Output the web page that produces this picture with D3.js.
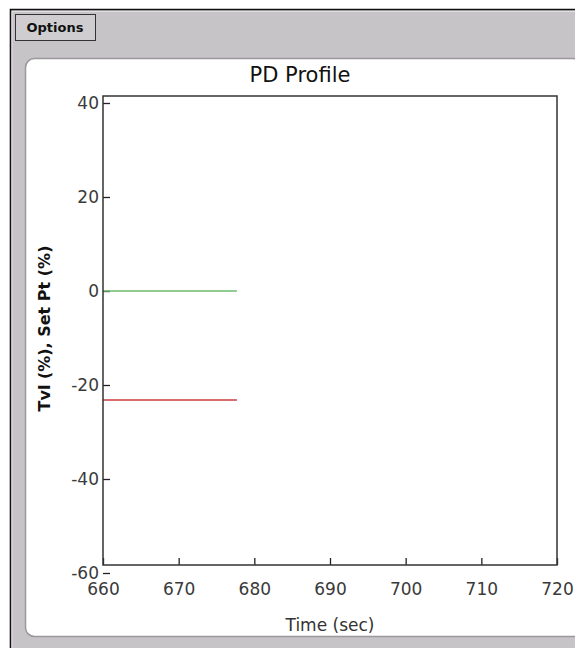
<!DOCTYPE html>
<html>
<head>
<meta charset="utf-8">
<script src="https://cdn.jsdelivr.net/npm/d3@7"></script>
<style>
  html, body { margin: 0; padding: 0; background: #fff; }
  svg { display: block; font-family: "DejaVu Sans", sans-serif; }
  .tick text { fill: #3a3a3a; font-size: 17px; font-family: "DejaVu Sans", sans-serif; }
  .tick line { stroke: #222; stroke-width: 1.3; }
  .domain { display: none; }
</style>
</head>
<body>
<svg id="chart" width="575" height="648"></svg>
<script>
// PD Profile data
const timeSec = [660, 677.7]
const setPt = [0, 0]
const tvl = [-23.2, -23.2]
const xTicks = [660, 670, 680, 690, 700, 710, 720]
const yTicks = [-60, -40, -20, 0, 20, 40]

const svg = d3.select("#chart")

// window chrome
svg.append("rect").attr("x", 10).attr("y", 9).attr("width", 565).attr("height", 639)
    .attr("fill", "#c6c4c6")
svg.append("path").attr("d", "M10.5,648 V9.5 H575")
    .attr("fill", "none").attr("stroke", "#111").attr("stroke-width", 1.6)
svg.append("path").attr("d", "M12,648 V11.5 H575")
    .attr("fill", "none").attr("stroke", "#e2e0e2").attr("stroke-width", 1)

// options button
svg.append("rect").attr("x", 15.5).attr("y", 14.5).attr("width", 80).attr("height", 26)
    .attr("fill", "#cfcdcf").attr("stroke", "#333").attr("stroke-width", 1)
svg.append("text").attr("x", 55).attr("y", 32).attr("text-anchor", "middle")
    .attr("font-size", 13).attr("font-weight", "bold").attr("fill", "#111").text("Options")

// white panel
svg.append("rect").attr("x", 25.5).attr("y", 58.5).attr("width", 556).attr("height", 578)
    .attr("rx", 9).attr("fill", "#fff").attr("stroke", "#9a989a").attr("stroke-width", 1.5)

const plot = {left: 103, top: 96, width: 454, height: 469}
const g = svg.append("g").attr("transform", `translate(${plot.left},${plot.top})`)

const x = d3.scaleLinear().domain([660, 720]).range([0, plot.width])
// tick positions sit a few px below the frame edges in the original
const y = d3.scaleLinear().domain([-60, 40]).range([plot.height + 8, 7])

g.append("g").attr("transform", `translate(0,${plot.height})`)
    .call(d3.axisBottom(x).tickValues(xTicks).tickFormat(d => String(d))
        .tickSizeInner(-7).tickSizeOuter(0).tickPadding(18))
g.append("g")
    .call(d3.axisLeft(y).tickValues(yTicks).tickFormat(d => String(d))
        .tickSizeInner(-7).tickSizeOuter(0).tickPadding(4))
g.selectAll(".tick text").attr("font-size", null).attr("font-family", null)
g.selectAll(".tick").each(function() { d3.select(this.parentNode).attr("font-size", null).attr("font-family", null) })

const line = d3.line().x(d => x(d[0])).y(d => y(d[1]))
g.append("path").datum(d3.zip(timeSec, setPt)).attr("d", line)
    .attr("fill", "none").attr("stroke", "#6dbd6d").attr("stroke-width", 1.6)
g.append("path").datum(d3.zip(timeSec, tvl)).attr("d", line)
    .attr("fill", "none").attr("stroke", "#cc3b3b").attr("stroke-width", 1.6)

// frame
g.append("rect").attr("x", 0).attr("y", 0).attr("width", plot.width).attr("height", plot.height)
    .attr("fill", "none").attr("stroke", "#333").attr("stroke-width", 1.5)

// titles
svg.append("text").attr("x", 300).attr("y", 82).attr("text-anchor", "middle")
    .attr("font-size", 21).attr("fill", "#111").text("PD Profile")
svg.append("text").attr("x", plot.left + plot.width / 2).attr("y", 631).attr("text-anchor", "middle")
    .attr("font-size", 17).attr("fill", "#333").text("Time (sec)")
svg.append("text").attr("transform", `translate(50,${plot.top + plot.height / 2 - 2}) rotate(-90)`)
    .attr("text-anchor", "middle").attr("font-size", 16).attr("font-weight", "bold")
    .attr("fill", "#111").text("Tvl (%), Set Pt (%)")
</script>
</body>
</html>
